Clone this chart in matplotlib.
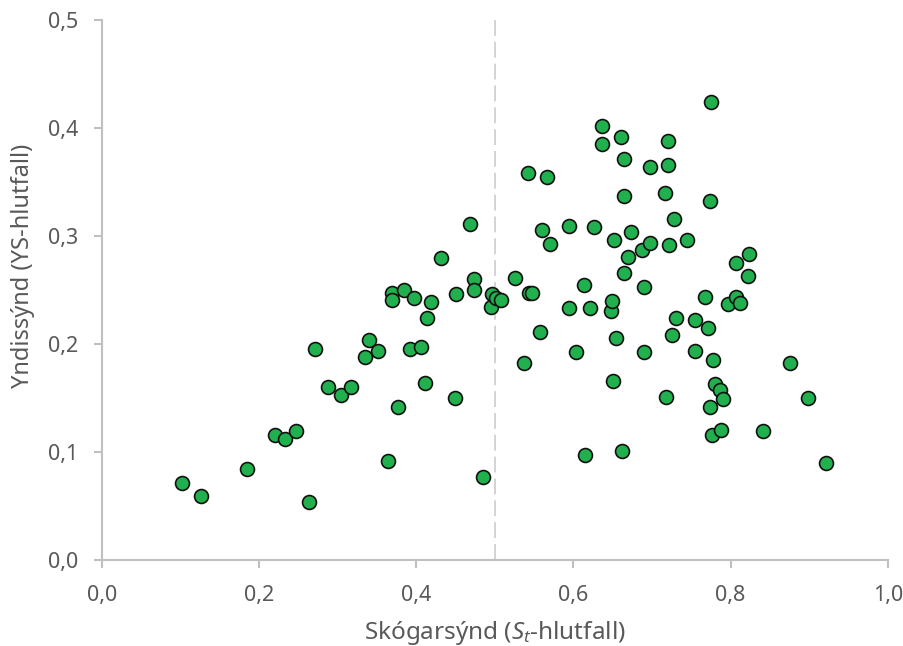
import matplotlib
matplotlib.use("Agg")
import matplotlib.pyplot as plt
from matplotlib.ticker import FuncFormatter

plt.rcParams['font.family'] = ['Noto Sans', 'DejaVu Sans']
plt.rcParams['mathtext.fontset'] = 'custom'
plt.rcParams['mathtext.rm'] = 'Noto Sans'
plt.rcParams['mathtext.it'] = 'Noto Sans:italic'

forest_share = [
    0.102, 0.126, 0.185, 0.221, 0.233, 0.247, 0.264, 0.271, 0.288, 0.305,
    0.317, 0.335, 0.340, 0.352, 0.364, 0.369, 0.369, 0.377, 0.385, 0.392,
    0.397, 0.406, 0.411, 0.414, 0.419, 0.432, 0.450, 0.451, 0.469, 0.474,
    0.474, 0.485, 0.495, 0.496, 0.502, 0.508, 0.526, 0.537, 0.542, 0.544,
    0.547, 0.557, 0.560, 0.566, 0.570, 0.594, 0.594, 0.604, 0.613, 0.615,
    0.621, 0.626, 0.637, 0.637, 0.648, 0.649, 0.651, 0.652, 0.654, 0.661,
    0.664, 0.665, 0.664, 0.662, 0.670, 0.673, 0.688, 0.690, 0.690, 0.698,
    0.697, 0.717, 0.721, 0.721, 0.718, 0.722, 0.725, 0.728, 0.731, 0.744,
    0.755, 0.755, 0.767, 0.771, 0.774, 0.774, 0.775, 0.778, 0.777, 0.780,
    0.786, 0.788, 0.790, 0.797, 0.807, 0.807, 0.812, 0.822, 0.823, 0.841,
    0.876, 0.898, 0.922,
]
ys_share = [
    0.071, 0.059, 0.084, 0.116, 0.112, 0.119, 0.054, 0.195, 0.160, 0.153,
    0.160, 0.188, 0.204, 0.194, 0.092, 0.247, 0.241, 0.142, 0.250, 0.195,
    0.243, 0.197, 0.164, 0.224, 0.239, 0.280, 0.150, 0.246, 0.311, 0.260,
    0.250, 0.077, 0.234, 0.246, 0.243, 0.241, 0.261, 0.182, 0.358, 0.247,
    0.247, 0.211, 0.306, 0.355, 0.293, 0.309, 0.233, 0.193, 0.255, 0.097,
    0.233, 0.308, 0.385, 0.402, 0.231, 0.240, 0.166, 0.296, 0.206, 0.392,
    0.371, 0.266, 0.337, 0.101, 0.281, 0.304, 0.287, 0.253, 0.193, 0.364,
    0.294, 0.340, 0.388, 0.366, 0.151, 0.292, 0.208, 0.316, 0.224, 0.296,
    0.194, 0.222, 0.244, 0.215, 0.142, 0.332, 0.424, 0.185, 0.116, 0.163,
    0.157, 0.120, 0.149, 0.237, 0.244, 0.275, 0.238, 0.263, 0.283, 0.119,
    0.182, 0.150, 0.090,
]
threshold = 0.5
x_ticks = [0.0, 0.2, 0.4, 0.6, 0.8, 1.0]
y_ticks = [0.0, 0.1, 0.2, 0.3, 0.4, 0.5]

fig = plt.figure(figsize=(9.04, 6.46), dpi=100)
ax = fig.add_axes([0.1125, 0.1331, 0.8695, 0.8359])

grey = '#c0c0c0'
text_col = '#595959'

ax.plot([threshold, threshold], [0.5, 0], color='#cccccc', lw=1.2,
        dashes=(9.5, 3.6), zorder=1)
ax.scatter(forest_share, ys_share, s=100, c='#21b04e', edgecolors='#111111',
           linewidths=1.2, zorder=3)

ax.set_xlim(0, 1.0)
ax.set_ylim(0, 0.5)
ax.set_xticks(x_ticks)
ax.set_yticks(y_ticks)
fmt = FuncFormatter(lambda v, p: f"{v:.1f}".replace('.', ','))
ax.xaxis.set_major_formatter(fmt)
ax.yaxis.set_major_formatter(fmt)

for s in ['top', 'right']:
    ax.spines[s].set_visible(False)
for s in ['left', 'bottom']:
    ax.spines[s].set_color(grey)
    ax.spines[s].set_linewidth(1.5)
ax.tick_params(axis='both', direction='out', length=6, width=1.5, color=grey,
               labelcolor=text_col, labelsize=15.5)
ax.tick_params(axis='y', pad=11)
ax.tick_params(axis='x', pad=12)

ax.set_xlabel(r'Skógarsýnd ($S_t$-hlutfall)', fontsize=17.5, color=text_col, labelpad=9)
ax.set_ylabel('Yndissýnd (YS-hlutfall)', fontsize=17, color=text_col)
ax.yaxis.set_label_coords(-0.085, 0.545)

fig.savefig('out.png', dpi=100)
